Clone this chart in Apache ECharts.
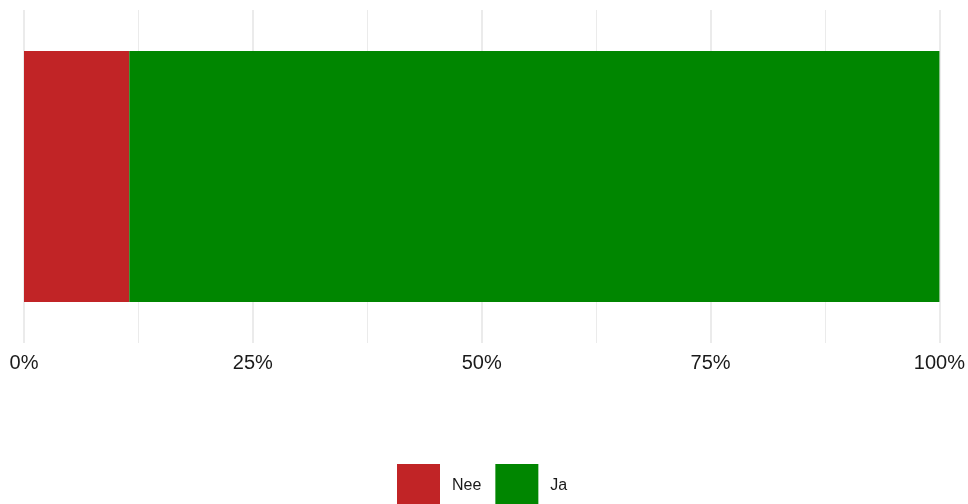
<!DOCTYPE html>
<html>
<head>
<meta charset="utf-8">
<script src="https://cdn.jsdelivr.net/npm/echarts@6/dist/echarts.min.js"></script>
<style>html,body{margin:0;padding:0;background:#fff}#c{width:968px;height:504px}</style>
</head>
<body>
<div id="c"></div>
<script>
const categories = ['Antwoord'];
const seriesNames = ['Nee', 'Ja'];
const neeValues = [11.5];
const jaValues = [88.5];
const tickValues = [0, 25, 50, 75, 100];

const chart = echarts.init(document.getElementById('c'), null, {renderer: 'canvas'});
chart.setOption({
  animation: false,
  backgroundColor: '#ffffff',
  grid: {left: 24, right: 28, top: 10, bottom: 161, containLabel: false},
  legend: {
    data: seriesNames,
    left: 397, top: 464, padding: 0,
    itemWidth: 43, itemHeight: 43, itemGap: 14,
    icon: 'rect',
    textStyle: {fontFamily: 'Liberation Sans, Arial', fontSize: 16, color: '#1a1a1a', padding: [3, 0, 0, 7]}
  },
  xAxis: {
    type: 'value', min: tickValues[0], max: tickValues[tickValues.length - 1], interval: 25,
    axisLine: {show: false}, axisTick: {show: false},
    axisLabel: {formatter: '{value}%', fontFamily: 'Liberation Sans, Arial', fontSize: 20, color: '#1a1a1a', margin: 10},
    splitLine: {show: true, lineStyle: {color: '#ebebeb', width: 2}},
    minorTick: {show: false, splitNumber: 2},
    minorSplitLine: {show: true, lineStyle: {color: '#ebebeb', width: 1}}
  },
  yAxis: {
    type: 'category', data: categories,
    axisLine: {show: false}, axisTick: {show: false}, axisLabel: {show: false},
    splitLine: {show: false}
  },
  series: [
    {name: seriesNames[0], type: 'bar', stack: 'a', data: neeValues, barWidth: 251, itemStyle: {color: '#c12426'}},
    {name: seriesNames[1], type: 'bar', stack: 'a', data: jaValues, barWidth: 251, itemStyle: {color: '#008600'}}
  ]
});
</script>
</body>
</html>
